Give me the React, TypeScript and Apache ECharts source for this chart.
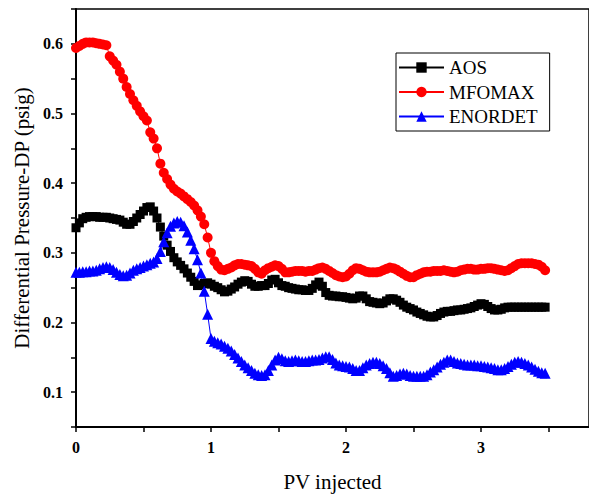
import React, { useEffect, useRef } from "react";
import * as echarts from "echarts";

const pvInjected = [
  0, 0.025, 0.05, 0.075, 0.1, 0.125, 0.15, 0.175, 0.2, 0.225, 0.25, 0.275, 0.3, 0.325, 0.35, 0.375, 0.4, 0.425, 0.45, 0.475,
  0.5, 0.525, 0.55, 0.575, 0.6, 0.625, 0.65, 0.675, 0.7, 0.725, 0.75, 0.775, 0.8, 0.825, 0.85, 0.875, 0.9, 0.925, 0.95, 0.975,
  1.0, 1.025, 1.05, 1.075, 1.1, 1.125, 1.15, 1.175, 1.2, 1.225, 1.25, 1.275, 1.3, 1.325, 1.35, 1.375, 1.4, 1.425, 1.45, 1.475,
  1.5, 1.525, 1.55, 1.575, 1.6, 1.625, 1.65, 1.675, 1.7, 1.725, 1.75, 1.775, 1.8, 1.825, 1.85, 1.875, 1.9, 1.925, 1.95, 1.975,
  2.0, 2.025, 2.05, 2.075, 2.1, 2.125, 2.15, 2.175, 2.2, 2.225, 2.25, 2.275, 2.3, 2.325, 2.35, 2.375, 2.4, 2.425, 2.45, 2.475,
  2.5, 2.525, 2.55, 2.575, 2.6, 2.625, 2.65, 2.675, 2.7, 2.725, 2.75, 2.775, 2.8, 2.825, 2.85, 2.875, 2.9, 2.925, 2.95, 2.975,
  3.0, 3.025, 3.05, 3.075, 3.1, 3.125, 3.15, 3.175, 3.2, 3.225, 3.25, 3.275, 3.3, 3.325, 3.35, 3.375, 3.4, 3.425, 3.45, 3.475,
];

const aos = [
  0.336, 0.343, 0.349, 0.351, 0.352, 0.352, 0.352, 0.351, 0.351, 0.351, 0.35, 0.349, 0.348, 0.347, 0.344, 0.341, 0.341, 0.345, 0.35, 0.355,
  0.36, 0.365, 0.366, 0.36, 0.35, 0.337, 0.324, 0.311, 0.302, 0.293, 0.287, 0.282, 0.277, 0.271, 0.265, 0.259, 0.253, 0.254, 0.256, 0.257,
  0.255, 0.252, 0.25, 0.247, 0.244, 0.245, 0.248, 0.251, 0.255, 0.258, 0.26, 0.259, 0.255, 0.252, 0.252, 0.253, 0.253, 0.256, 0.261, 0.262,
  0.257, 0.253, 0.252, 0.25, 0.249, 0.248, 0.247, 0.247, 0.246, 0.246, 0.249, 0.254, 0.258, 0.252, 0.243, 0.239, 0.238, 0.238, 0.237, 0.237,
  0.236, 0.235, 0.234, 0.235, 0.238, 0.238, 0.234, 0.23, 0.229, 0.228, 0.227, 0.228, 0.231, 0.234, 0.234, 0.232, 0.229, 0.225, 0.222, 0.22,
  0.218, 0.215, 0.213, 0.211, 0.209, 0.208, 0.208, 0.21, 0.213, 0.215, 0.216, 0.216, 0.217, 0.218, 0.218, 0.219, 0.22, 0.221, 0.223, 0.225,
  0.227, 0.226, 0.223, 0.22, 0.218, 0.218, 0.219, 0.221, 0.222, 0.222, 0.222, 0.222, 0.222, 0.222, 0.222, 0.222, 0.222, 0.222, 0.222, 0.222,
];

const mfomax = [
  0.594, 0.597, 0.6, 0.602, 0.602, 0.602, 0.601, 0.6, 0.599, 0.598, 0.582, 0.576, 0.57, 0.56, 0.55, 0.538, 0.528, 0.519, 0.511, 0.503,
  0.496, 0.49, 0.473, 0.464, 0.45, 0.428, 0.415, 0.406, 0.398, 0.392, 0.388, 0.385, 0.381, 0.377, 0.373, 0.368, 0.361, 0.352, 0.341, 0.322,
  0.3, 0.288, 0.281, 0.276, 0.275, 0.277, 0.279, 0.282, 0.284, 0.284, 0.283, 0.282, 0.281, 0.277, 0.272, 0.27, 0.275, 0.278, 0.28, 0.282,
  0.281, 0.277, 0.272, 0.272, 0.273, 0.274, 0.274, 0.274, 0.273, 0.274, 0.274, 0.276, 0.278, 0.279, 0.277, 0.274, 0.271, 0.268, 0.266, 0.265,
  0.266, 0.27, 0.275, 0.278, 0.277, 0.275, 0.273, 0.272, 0.272, 0.272, 0.273, 0.275, 0.277, 0.279, 0.278, 0.276, 0.273, 0.27, 0.267, 0.265,
  0.265, 0.268, 0.27, 0.272, 0.273, 0.273, 0.274, 0.274, 0.274, 0.275, 0.274, 0.273, 0.272, 0.273, 0.275, 0.276, 0.277, 0.277, 0.276, 0.276,
  0.277, 0.277, 0.278, 0.278, 0.277, 0.276, 0.275, 0.274, 0.275, 0.278, 0.281, 0.284, 0.285, 0.285, 0.285, 0.285, 0.284, 0.283, 0.28, 0.275,
];

const enordet = [
  0.272, 0.272, 0.273, 0.273, 0.274, 0.274, 0.275, 0.277, 0.279, 0.28, 0.279, 0.276, 0.272, 0.269, 0.267, 0.268, 0.271, 0.275, 0.277, 0.279,
  0.281, 0.283, 0.285, 0.287, 0.292, 0.302, 0.316, 0.329, 0.338, 0.343, 0.345, 0.344, 0.339, 0.33, 0.318, 0.306, 0.29, 0.271, 0.245, 0.212,
  0.177, 0.173, 0.171, 0.169, 0.166, 0.163, 0.159, 0.154, 0.149, 0.144, 0.139, 0.135, 0.131, 0.127, 0.125, 0.124, 0.125, 0.131, 0.139, 0.146,
  0.15, 0.148, 0.145, 0.144, 0.145, 0.146, 0.145, 0.144, 0.144, 0.145, 0.146, 0.146, 0.147, 0.149, 0.151, 0.151, 0.147, 0.142, 0.139, 0.138,
  0.137, 0.136, 0.134, 0.131, 0.131, 0.135, 0.139, 0.141, 0.143, 0.143, 0.141, 0.138, 0.134, 0.128, 0.123, 0.124, 0.126, 0.127, 0.126, 0.124,
  0.123, 0.123, 0.123, 0.123, 0.125, 0.129, 0.132, 0.136, 0.14, 0.143, 0.146, 0.146, 0.144, 0.142, 0.141, 0.14, 0.139, 0.139, 0.139, 0.138,
  0.138, 0.137, 0.136, 0.135, 0.134, 0.132, 0.132, 0.134, 0.137, 0.14, 0.143, 0.144, 0.143, 0.141, 0.139, 0.136, 0.133, 0.13, 0.128, 0.127,
];

const seriesNames = ["AOS", "MFOMAX", "ENORDET"];
const xTitle = "PV injected";
const yTitle = "Differential Pressure-DP (psig)";

const FONT = "'Liberation Serif', 'Times New Roman', serif";

export default function App() {
  const ref = useRef<HTMLDivElement>(null);

  useEffect(() => {
    if (!ref.current) return;
    const chart = echarts.init(ref.current, null, { renderer: "svg" });
    const pair = (ys: number[]) => pvInjected.map((x, i) => [x, ys[i]]);
    const mk = (name: string, ys: number[], color: string, symbol: string, size: number) => ({
      name,
      type: "line",
      data: pair(ys),
      symbol,
      symbolSize: size,
      showAllSymbol: true,
      lineStyle: { color, width: 1 },
      itemStyle: { color },
      emphasis: { disabled: true },
    });
    chart.setOption({
      animation: false,
      backgroundColor: "#ffffff",
      grid: {
        left: 76,
        top: 9,
        width: 522,
        height: 421.5,
        show: true,
        borderColor: "#000",
        borderWidth: 1.5,
      },
      legend: {
        orient: "vertical",
        left: 396,
        top: 53,
        padding: [5, 12, 5, 2],
        borderColor: "#000",
        borderWidth: 1,
        itemWidth: 45,
        itemHeight: 13,
        itemGap: 5.5,
        textStyle: { fontFamily: FONT, fontSize: 19, color: "#000", lineHeight: 19 },
        data: seriesNames,
      },
      xAxis: {
        type: "value",
        min: 0,
        max: 3.8,
        interval: 0.5,
        name: xTitle,
        nameLocation: "middle",
        nameGap: 44,
        nameTextStyle: { fontFamily: FONT, fontSize: 21, color: "#000" },
        splitLine: { show: false },
        axisLine: { onZero: false, lineStyle: { color: "#000", width: 2 } },
        axisTick: { show: true, inside: false, length: 5, lineStyle: { color: "#000", width: 1.5 } },
        axisLabel: {
          margin: 12,
          fontFamily: FONT,
          fontSize: 16,
          fontWeight: "bold",
          color: "#000",
          showMaxLabel: false,
          formatter: (v: number) => (Math.abs(v - Math.round(v)) < 1e-6 ? String(Math.round(v)) : ""),
        },
      },
      yAxis: {
        type: "value",
        min: 0.05,
        max: 0.65,
        interval: 0.05,
        name: yTitle,
        nameLocation: "middle",
        nameGap: 42,
        nameRotate: 90,
        nameTextStyle: { fontFamily: FONT, fontSize: 21, color: "#000" },
        splitLine: { show: false },
        axisLine: { onZero: false, lineStyle: { color: "#000", width: 2 } },
        axisTick: { show: true, inside: false, length: 5, lineStyle: { color: "#000", width: 1.5 } },
        axisLabel: {
          margin: 13,
          fontFamily: FONT,
          fontSize: 16,
          fontWeight: "bold",
          color: "#000",
          formatter: (v: number) => {
            const t = v * 10;
            return Math.abs(t - Math.round(t)) < 1e-6 ? v.toFixed(1) : "";
          },
        },
      },
      series: [
        mk(seriesNames[0], aos, "#000000", "rect", 9),
        mk(seriesNames[1], mfomax, "#ff0000", "circle", 10),
        mk(seriesNames[2], enordet, "#0000ff", "triangle", 11),
      ],
    });
    return () => chart.dispose();
  }, []);

  return (
    <div
      ref={ref}
      style={{ position: "fixed", left: 0, top: 0, width: 589, height: 497, background: "#fff" }}
    />
  );
}
